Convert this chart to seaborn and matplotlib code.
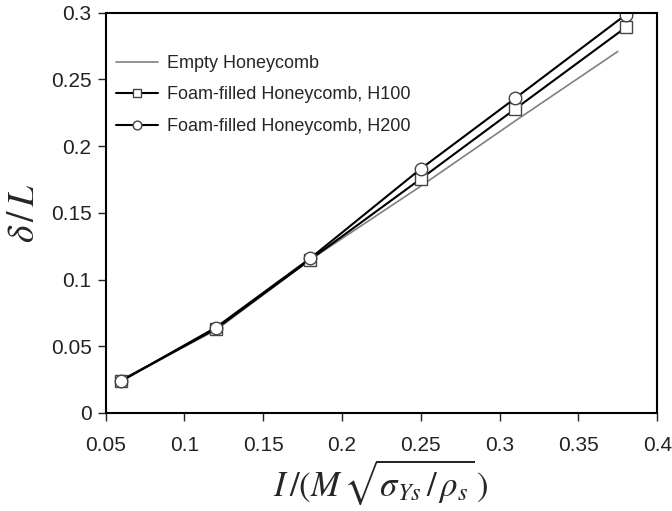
import pandas as pd
import numpy as np
import seaborn as sns
import matplotlib.pyplot as plt

x_foam = [0.06, 0.12, 0.18, 0.25, 0.31, 0.38]
x_empty = [0.06, 0.12, 0.18, 0.25, 0.31, 0.375]
empty = [0.025, 0.062, 0.115, 0.170, 0.219, 0.271]
h100 = [0.024, 0.063, 0.115, 0.1755, 0.228, 0.289]
h200 = [0.024, 0.064, 0.116, 0.183, 0.236, 0.2985]
labels = ['Empty Honeycomb', 'Foam-filled Honeycomb, H100', 'Foam-filled Honeycomb, H200']

df = pd.concat([
    pd.DataFrame({'x': x_empty, 'y': empty, 'series': labels[0]}),
    pd.DataFrame({'x': x_foam, 'y': h100, 'series': labels[1]}),
    pd.DataFrame({'x': x_foam, 'y': h200, 'series': labels[2]}),
])

sns.set_style("ticks")
plt.rcParams['font.family'] = ['Liberation Sans', 'DejaVu Sans']
plt.rcParams['mathtext.fontset'] = 'stix'

fig = plt.figure(figsize=(6.72, 5.11), dpi=100)
ax = fig.add_axes([0.157, 0.192, 0.821, 0.783])

sns.lineplot(data=df[df.series == labels[0]], x='x', y='y', color='#808080', lw=1.2,
             label=labels[0], ax=ax)
sns.lineplot(data=df[df.series == labels[1]], x='x', y='y', color='black', lw=1.5,
             marker='s', markersize=8, markerfacecolor='white', markeredgecolor='#444444',
             markeredgewidth=1, label=labels[1], ax=ax)
sns.lineplot(data=df[df.series == labels[2]], x='x', y='y', color='black', lw=1.5,
             marker='o', markersize=9, markerfacecolor='white', markeredgecolor='#444444',
             markeredgewidth=1, label=labels[2], ax=ax)

ax.set_xlim(0.05, 0.4)
ax.set_ylim(0, 0.3)
ax.set_xticks([0.05, 0.1, 0.15, 0.2, 0.25, 0.3, 0.35, 0.4])
ax.set_xticklabels(['0.05', '0.1', '0.15', '0.2', '0.25', '0.3', '0.35', '0.4'])
ax.set_yticks([0, 0.05, 0.1, 0.15, 0.2, 0.25, 0.3])
ax.set_yticklabels(['0', '0.05', '0.1', '0.15', '0.2', '0.25', '0.3'])
ax.tick_params(labelsize=15, colors='#222222', length=6, width=1, direction='out')
ax.tick_params(axis='x', pad=11)
ax.tick_params(axis='y', pad=4)
for s in ax.spines.values():
    s.set_linewidth(1.5)
    s.set_color('black')

ax.set_xlabel(r'$I\,/(M\,\sqrt{\sigma_{Ys}\,/\,\rho_s}\,)$', fontsize=25, labelpad=2)
ax.set_ylabel(r'$\delta\,/\,L$', fontsize=27, labelpad=6)

ax.legend(loc='upper left', frameon=False, fontsize=13, handlelength=2.3, handletextpad=0.5,
          labelspacing=0.8, markerscale=0.7, bbox_to_anchor=(-0.01, 0.935))

plt.savefig('out.png', dpi=100)
plt.close()
